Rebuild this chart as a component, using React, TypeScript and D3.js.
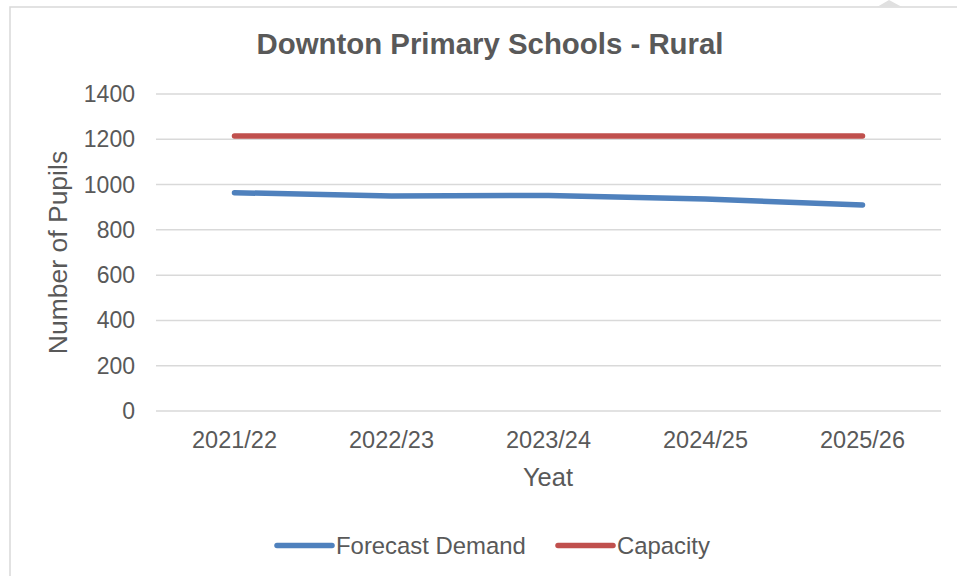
import { useRef, useEffect } from "react";
import * as d3 from "d3";

const categories = ["2021/22", "2022/23", "2023/24", "2024/25", "2025/26"];
const forecastDemand = [964, 950, 952, 936, 910];
const capacity = [1215, 1215, 1215, 1215, 1215];
const yTicks = [0, 200, 400, 600, 800, 1000, 1200, 1400];

const seriesNames = ["Forecast Demand", "Capacity"];
const seriesColors = ["#4F81BD", "#C0504D"];

export default function App() {
  const svgRef = useRef<SVGSVGElement>(null);

  useEffect(() => {
    if (!svgRef.current) return;
    document.body.style.margin = "0";

    const W = 957;
    const H = 576;
    const plot = { left: 156, right: 941, top: 94, bottom: 411 };
    const font = "'Liberation Sans', Arial, sans-serif";
    const textColor = "#595959";

    const svg = d3.select(svgRef.current);
    svg.selectAll("*").remove();
    svg.attr("width", W).attr("height", H).style("font-family", font);

    // chart frame (continues past the right and bottom edges)
    svg
      .append("path")
      .attr("d", `M10,${H + 2} L10,7 L${W + 2},7`)
      .attr("fill", "none")
      .attr("stroke", "#D9D9D9")
      .attr("stroke-width", 1.5);

    // little pointer at the top right
    svg
      .append("path")
      .attr("d", "M877,7 L889,0 L902,7 Z")
      .attr("fill", "#E0E0E0");

    // Scales
    const x = d3
      .scalePoint<string>()
      .domain(categories)
      .range([plot.left, plot.right])
      .padding(0.5);

    const y = d3.scaleLinear().domain([0, 1400]).range([plot.bottom, plot.top]);

    // Gridlines
    svg
      .append("g")
      .selectAll("line")
      .data(yTicks)
      .join("line")
      .attr("x1", plot.left)
      .attr("x2", plot.right)
      .attr("y1", (d) => y(d))
      .attr("y2", (d) => y(d))
      .attr("stroke", "#D9D9D9")
      .attr("stroke-width", 1.5);

    // Y tick labels
    svg
      .append("g")
      .selectAll("text")
      .data(yTicks)
      .join("text")
      .attr("x", plot.left - 21)
      .attr("y", (d) => y(d))
      .attr("dy", "0.35em")
      .attr("text-anchor", "end")
      .attr("fill", textColor)
      .style("font-size", "23px")
      .text((d) => d);

    // X tick labels
    svg
      .append("g")
      .selectAll("text")
      .data(categories)
      .join("text")
      .attr("x", (d) => x(d)!)
      .attr("y", 448)
      .attr("text-anchor", "middle")
      .attr("fill", textColor)
      .style("font-size", "23.5px")
      .text((d) => d);

    // Lines
    const line = d3
      .line<number>()
      .x((_, i) => x(categories[i])!)
      .y((d) => y(d));

    [forecastDemand, capacity].forEach((values, i) => {
      svg
        .append("path")
        .datum(values)
        .attr("fill", "none")
        .attr("stroke", seriesColors[i])
        .attr("stroke-width", 5.5)
        .attr("stroke-linecap", "round")
        .attr("stroke-linejoin", "round")
        .attr("d", line);
    });

    // Title
    svg
      .append("text")
      .attr("x", 490)
      .attr("y", 54)
      .attr("text-anchor", "middle")
      .attr("fill", textColor)
      .style("font-size", "29.4px")
      .style("font-weight", "bold")
      .text("Downton Primary Schools - Rural");

    // Axis titles
    svg
      .append("text")
      .attr("transform", `translate(67,${(plot.top + plot.bottom) / 2}) rotate(-90)`)
      .attr("text-anchor", "middle")
      .attr("fill", textColor)
      .style("font-size", "26.5px")
      .text("Number of Pupils");

    svg
      .append("text")
      .attr("x", 548)
      .attr("y", 486)
      .attr("text-anchor", "middle")
      .attr("fill", textColor)
      .style("font-size", "25.5px")
      .text("Yeat");

    // Legend
    const legendX = [277, 558];
    const legend = svg
      .append("g")
      .selectAll("g")
      .data(seriesNames)
      .join("g")
      .attr("transform", (_, i) => `translate(${legendX[i]},545.5)`);

    legend
      .append("line")
      .attr("x1", 0)
      .attr("x2", 55)
      .attr("stroke", (_, i) => seriesColors[i])
      .attr("stroke-width", 5.5)
      .attr("stroke-linecap", "round");

    legend
      .append("text")
      .attr("x", 59)
      .attr("y", 8)
      .attr("fill", textColor)
      .style("font-size", "23.9px")
      .text((d) => d);
  }, []);

  return <svg ref={svgRef} style={{ display: "block" }} />;
}
